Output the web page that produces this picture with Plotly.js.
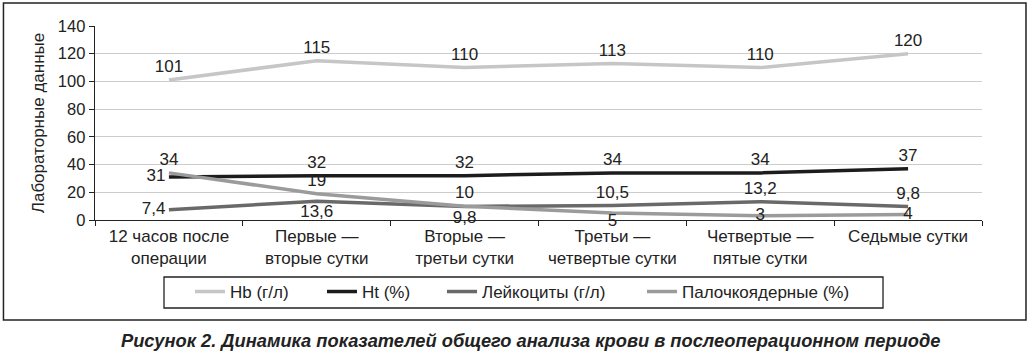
<!DOCTYPE html>
<html>
<head>
<meta charset="utf-8">
<script src="https://cdn.plot.ly/plotly-3.0.1.min.js"></script>
<style>html,body{margin:0;padding:0;background:#fff;}#chart{width:1032px;height:354px;}</style>
</head>
<body>
<div id="chart"></div>
<script>
const categories = ["12 часов после<br>операции", "Первые —<br>вторые сутки", "Вторые —<br>третьи сутки", "Третьи —<br>четвертые сутки", "Четвертые —<br>пятые сутки", "Седьмые сутки"];
const seriesNames = ["Hb (г/л)", "Ht (%)", "Лейкоциты (г/л)", "Палочкоядерные (%)"];
const hb = [101, 115, 110, 113, 110, 120];
const ht = [31, 32, 32, 34, 34, 37];
const leuk = [7.4, 13.6, 9.8, 10.5, 13.2, 9.8];
const band = [34, 19, 10, 5, 3, 4];
const hbPos = ["top center", "top center", "top center", "top center", "top center", "top center"];
const htPos = ["middle left", "top center", "top center", "top center", "top center", "top center"];
const leukPos = ["middle left", "bottom center", "bottom center", "top center", "top center", "top center"];
const bandPos = ["top center", "top center", "top center", "bottom center", "middle center", "middle center"];
const bandLabelGap = [4, 4, 4, 0, 0, 0];
const colors = ["#c6c6c6", "#1c1c1c", "#696969", "#9b9b9b"];

const fmt = v => String(v).replace(".", ",");
const FONT = "Liberation Sans, Arial, sans-serif";
const legendIds = ["legend", "legend2", "legend3", "legend4"];
const legendX = [0.1071, 0.2559, 0.3912, 0.6167];

function mk(i, ys, pos, gap) {
  return {
    type: "scatter", mode: "lines+markers+text", name: seriesNames[i],
    legend: legendIds[i],
    x: categories, y: ys,
    text: ys.map(fmt), textposition: pos,
    textfont: {family: FONT, size: 17, color: "#222"},
    line: {color: colors[i], width: 3.5},
    marker: {size: gap || 4, color: "rgba(0,0,0,0)", line: {width: 0}},
    cliponaxis: false, hoverinfo: "skip"
  };
}
const data = [
  mk(0, hb, hbPos),
  mk(1, ht, htPos),
  mk(2, leuk, leukPos),
  mk(3, band, bandPos, bandLabelGap)
];

function leg(x) {
  return {
    orientation: "h", x: x, xanchor: "left", y: -0.371, yanchor: "middle",
    borderwidth: 0, bgcolor: "rgba(0,0,0,0)",
    font: {family: FONT, size: 17, color: "#222"}, itemwidth: 30
  };
}

const layout = {
  width: 1032, height: 354,
  margin: {l: 95, r: 50, t: 26, b: 134},
  paper_bgcolor: "#fff", plot_bgcolor: "#fff",
  font: {family: FONT, size: 17, color: "#222"},
  showlegend: true,
  legend: leg(legendX[0]),
  legend2: leg(legendX[1]),
  legend3: leg(legendX[2]),
  legend4: leg(legendX[3]),
  xaxis: {
    type: "category", range: [-0.5, 5.5],
    showline: true, linecolor: "#222", linewidth: 1.3,
    ticks: "outside", tickson: "boundaries", ticklen: 5, tickcolor: "#222",
    showgrid: false, tickfont: {family: FONT, size: 17, color: "#222"},
    fixedrange: true
  },
  yaxis: {
    range: [0, 140], dtick: 20,
    showline: true, linecolor: "#222", linewidth: 1.3,
    ticks: "outside", ticklen: 5, tickcolor: "#222",
    showgrid: true, gridcolor: "#cccccc", gridwidth: 1,
    zeroline: false,
    tickfont: {family: FONT, size: 16.5, color: "#222"},
    title: {text: "Лабораторные данные", font: {family: FONT, size: 17, color: "#222"}, standoff: 9},
    fixedrange: true
  },
  shapes: [{
    type: "rect", xref: "paper", yref: "paper",
    x0: -0.1032, x1: 1.0496, y0: -0.515, y1: 1.1186,
    line: {color: "#222", width: 1.5}, fillcolor: "rgba(0,0,0,0)"
  }, {
    type: "rect", xref: "paper", yref: "paper",
    x0: 0.0778, x1: 0.8884, y0: -0.4536, y1: -0.2938,
    line: {color: "#222", width: 1.3}, fillcolor: "rgba(0,0,0,0)"
  }],
  annotations: [{
    xref: "paper", yref: "paper", x: 0.491, y: -0.6186,
    xanchor: "center", yanchor: "middle", showarrow: false,
    text: "Рисунок 2. Динамика показателей общего анализа крови в послеоперационном периоде",
    font: {family: FONT, size: 18.3, color: "#222", weight: "bold", style: "italic"}
  }]
};

Plotly.newPlot("chart", data, layout, {displayModeBar: false, staticPlot: true});
</script>
</body>
</html>
